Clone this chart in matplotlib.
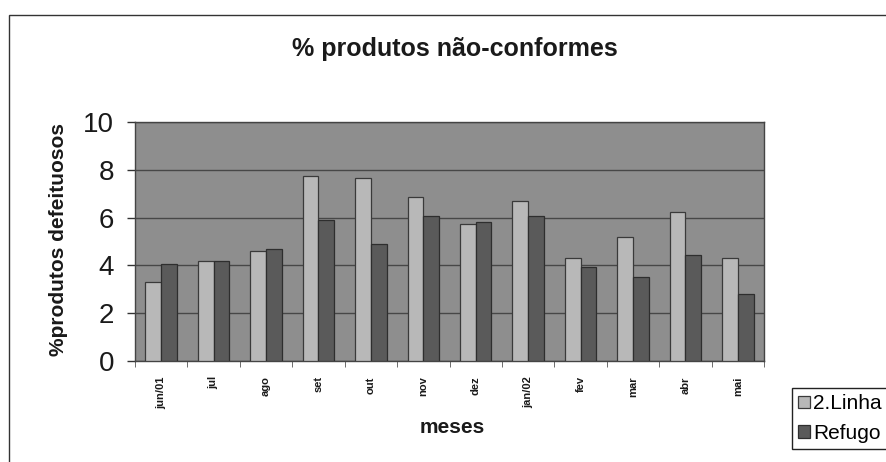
import numpy as np
import matplotlib
matplotlib.use("Agg")
import matplotlib.pyplot as plt
from matplotlib.patches import Rectangle

plt.rcParams['font.family'] = ['Liberation Sans', 'DejaVu Sans']

# data
meses = ['jun/01', 'jul', 'ago', 'set', 'out', 'nov', 'dez', 'jan/02', 'fev', 'mar', 'abr', 'mai']
linha2 = [3.3, 4.2, 4.6, 7.75, 7.65, 6.85, 5.75, 6.7, 4.3, 5.2, 6.25, 4.3]
refugo = [4.05, 4.2, 4.7, 5.9, 4.9, 6.05, 5.8, 6.05, 3.95, 3.5, 4.45, 2.8]
yticks = [0, 2, 4, 6, 8, 10]

W, H = 886, 462
fig = plt.figure(figsize=(W / 100, H / 100), dpi=100)
fig.patch.set_facecolor('white')

# plot area in pixel coords of the reference
left, right, top, bottom = 135, 764, 122, 361
ax = fig.add_axes([left / W, 1 - bottom / H, (right - left) / W, (bottom - top) / H])
ax.set_facecolor('#8e8e8e')

x = np.arange(len(meses))
bw = 0.3
ax.bar(x - bw / 2, linha2, bw, color='#b8b8b8', edgecolor='#3a3a3a', linewidth=0.9, label='2.Linha', zorder=3)
ax.bar(x + bw / 2, refugo, bw, color='#5a5a5a', edgecolor='#2e2e2e', linewidth=0.9, label='Refugo', zorder=3)

ax.set_xlim(-0.5, len(meses) - 0.5)
ax.set_ylim(0, 10)
ax.set_yticks(yticks)
ax.set_yticklabels([str(v) for v in yticks], fontsize=20, color='#1a1a1a')
ax.yaxis.grid(True, color='#474747', linewidth=1.0, zorder=1)
ax.set_axisbelow(True)

ax.set_xticks(x)
ax.set_xticklabels(meses, rotation=90, fontsize=8, fontweight='bold', va='top', color='#1a1a1a')
ax.set_xticks(np.arange(len(meses) + 1) - 0.5, minor=True)
ax.tick_params(axis='x', which='major', length=0, pad=11)
ax.tick_params(axis='x', which='minor', length=4, color='#555555')
ax.tick_params(axis='y', length=6, width=1, color='#333333', pad=9)

for s in ax.spines.values():
    s.set_color('#444444')
    s.set_linewidth(1.0)

# texts
fig.text(455 / W, 1 - 56 / H, '% produtos não-conformes', ha='center', va='baseline',
         fontsize=18, fontweight='bold', color='#1a1a1a')
fig.text(58 / W, 1 - 240 / H, '%produtos defeituosos', ha='center', va='center',
         rotation=90, fontsize=15, fontweight='bold', color='#1a1a1a')
fig.text(452 / W, 1 - 433 / H, 'meses', ha='center', va='baseline',
         fontsize=15, fontweight='bold', color='#1a1a1a')

# outer chart border (runs off the right and bottom edges)
fig.patches.append(Rectangle((9 / W, -0.1), 1.2, 1 - 15 / H + 0.1, transform=fig.transFigure,
                             fill=False, edgecolor='#333333', linewidth=1.0))

leg = fig.legend(loc='upper left', bbox_to_anchor=(792 / W, 1 - 388 / H), fontsize=15,
                 frameon=True, fancybox=False, edgecolor='#222222', framealpha=1,
                 handlelength=0.55, handleheight=0.55, handletextpad=0.15,
                 labelspacing=0.5, borderpad=0.3, borderaxespad=0)
leg.get_frame().set_linewidth(1.0)

fig.savefig('out.png', dpi=100)
